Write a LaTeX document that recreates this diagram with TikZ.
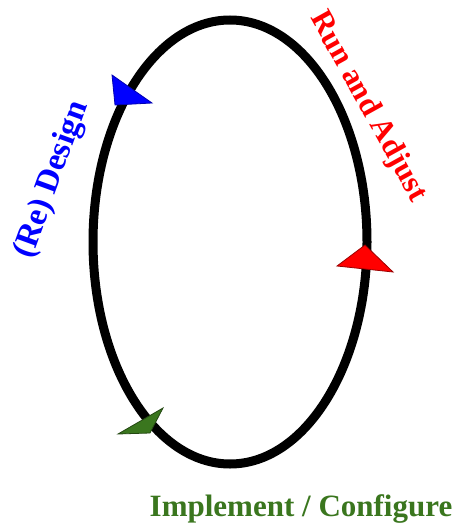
\documentclass[tikz,border=0pt]{standalone}
\usepackage{fontspec}
\setmainfont{Liberation Serif}
\definecolor{cgreen}{RGB}{58,118,30}
\definecolor{cblue}{RGB}{0,0,255}
\definecolor{cred}{RGB}{255,0,0}
\begin{document}
\begin{tikzpicture}[x=1pt,y=-1pt,
  lbl/.style={font=\fontsize{31}{36}\selectfont\bfseries, inner sep=0pt},
  tip/.style={line width=0.8pt, line join=miter}]
\useasboundingbox (0,0) rectangle (458,529);
\coordinate (c) at (230,242);
\draw[line width=9pt] (c) ellipse [x radius=137, y radius=222];
\filldraw[tip, fill=cblue, draw=cblue!70!black] (112,75) -- (152,103) -- (115,105) -- cycle;
\filldraw[tip, fill=cred, draw=cred!60!black] (365,245) -- (393,272) -- (337,266) -- cycle;
\filldraw[tip, fill=cgreen, draw=cgreen!60!black] (163,408) -- (150,433) -- (118,434) -- cycle;
\node[lbl, font=\fontsize{33}{38}\selectfont\bfseries, text=cblue, rotate=70] (design) at (52,180) {(Re) Design};
\node[lbl, text=cred, rotate=-61] (run) at (368,107) {Run and Adjust};
\node[lbl, text=cgreen, anchor=base] (impl) at (301,516) {Implement / Configure};
\end{tikzpicture}
\end{document}
